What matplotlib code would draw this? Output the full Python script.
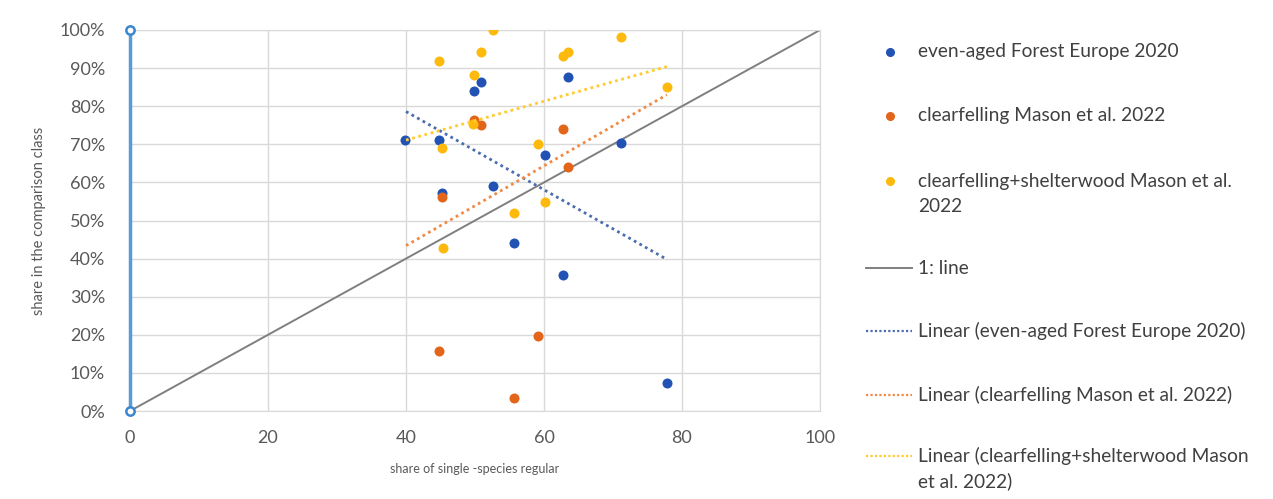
import numpy as np
import matplotlib.pyplot as plt
from matplotlib.lines import Line2D

plt.rcParams['font.family'] = ['Lato', 'DejaVu Sans']

# even-aged Forest Europe 2020
blue_x = [39.9, 44.8, 45.2, 49.9, 50.9, 52.6, 55.6, 60.1, 63.5, 62.7, 71.1, 77.8]
blue_y = [71.1, 71.1, 57.1, 84.0, 86.4, 59.1, 44.2, 67.2, 87.7, 35.7, 70.4, 7.4]

# clearfelling Mason et al. 2022
orange_x = [45.2, 49.9, 50.9, 62.7, 63.5, 44.8, 59.1, 55.6]
orange_y = [56.1, 76.4, 75.1, 74.0, 64.1, 15.8, 19.8, 3.5]

# clearfelling+shelterwood Mason et al. 2022
yellow_x = [44.8, 52.6, 50.9, 49.9, 62.7, 63.5, 71.1, 77.8, 49.7, 45.2, 59.1, 55.6, 60.1, 45.4]
yellow_y = [91.9, 100.0, 94.1, 88.2, 93.2, 94.1, 98.1, 85.0, 75.2, 69.1, 70.1, 52.0, 54.9, 42.9]

# linear trendlines (end values)
trend_x = [40, 77.8]
blue_trend = [78.6, 39.8]
orange_trend = [43.4, 83.0]
yellow_trend = [71.1, 90.4]

one_to_one_x = [0, 100]
one_to_one_y = [0, 100]
yaxis_series_x = [0, 0]
yaxis_series_y = [0, 100]

labels = ['even-aged Forest Europe 2020',
          'clearfelling Mason et al. 2022',
          'clearfelling+shelterwood Mason et al.\n2022',
          '1: line',
          'Linear (even-aged Forest Europe 2020)',
          'Linear (clearfelling Mason et al. 2022)',
          'Linear (clearfelling+shelterwood Mason\net al. 2022)']

c_blue = '#2253B4'
c_orange = '#E2651A'
c_yellow = '#FDBA0C'
c_tblue = '#4A6DB0'
c_torange = '#F08A45'
c_tyellow = '#FFCB2E'
c_grid = '#D9D9D9'
c_text = '#595959'

fig = plt.figure(figsize=(12.73, 4.99), dpi=100)
ax = fig.add_axes([130 / 1273, 1 - 411 / 499, 690 / 1273, 381 / 499])

def to_frac(v):
    return np.array(v) / 100.0

ax.plot(one_to_one_x, to_frac(one_to_one_y), color='#7F7F7F', lw=1.4, zorder=2)
ax.scatter(blue_x, to_frac(blue_y), s=52, color=c_blue, zorder=3, linewidths=0)
ax.scatter(orange_x, to_frac(orange_y), s=52, color=c_orange, zorder=3, linewidths=0)
ax.scatter(yellow_x, to_frac(yellow_y), s=52, color=c_yellow, zorder=3, linewidths=0)

ax.plot(trend_x, to_frac(blue_trend), color=c_tblue, lw=2, ls=(0, (1, 1.3)), zorder=4)
ax.plot(trend_x, to_frac(orange_trend), color=c_torange, lw=2, ls=(0, (1, 1.3)), zorder=4)
ax.plot(trend_x, to_frac(yellow_trend), color=c_tyellow, lw=2, ls=(0, (1, 1.3)), zorder=4)

ax.plot(yaxis_series_x, to_frac(yaxis_series_y), color='#5B9BD5', lw=2.5, marker='o',
        ms=6, mfc='white', mec='#3A86D0', mew=1.8, zorder=5, clip_on=False)

ax.set_xlim(0, 100)
ax.set_ylim(0, 1)
ax.set_xticks(np.arange(0, 101, 20))
ax.set_yticks(np.arange(0, 1.01, 0.1))
ax.set_yticklabels([f'{v}%' for v in range(0, 101, 10)])
ax.grid(True, color=c_grid, lw=1)
ax.set_axisbelow(True)
for s in ax.spines.values():
    s.set_color(c_grid)
ax.tick_params(length=0, labelsize=13, colors=c_text)
ax.tick_params(axis='y', pad=18)
ax.tick_params(axis='x', pad=14)
ax.set_xlabel('share of single -species regular', fontsize=9, color=c_text, labelpad=12)
ax.set_ylabel('share in the comparison class', fontsize=10.5, color=c_text, labelpad=10)

# legend drawn on the figure, right of the plot
W, H = 1273, 499
ys = [52, 116, 181, 268, 331, 395, 456]
line_gap = 25
handles = [('m', c_blue), ('m', c_orange), ('m', c_yellow), ('l', '#7F7F7F'),
           ('d', c_tblue), ('d', c_torange), ('d', c_tyellow)]
for lab, y, (kind, col) in zip(labels, ys, handles):
    fy = 1 - y / H
    if kind == 'm':
        fig.add_artist(Line2D([890 / W], [fy], marker='o', ms=5.5, color=col, lw=0))
    elif kind == 'l':
        fig.add_artist(Line2D([866 / W, 912 / W], [fy, fy], color=col, lw=1.4))
    else:
        fig.add_artist(Line2D([866 / W, 912 / W], [fy, fy], color=col, lw=1.6, ls=(0, (1, 1))))
    for i, part in enumerate(lab.split('\n')):
        fig.text(918 / W, 1 - (y + i * line_gap) / H, part, fontsize=13.8,
                 color='#404040', va='center', ha='left')

fig.savefig('out.png', dpi=100)
